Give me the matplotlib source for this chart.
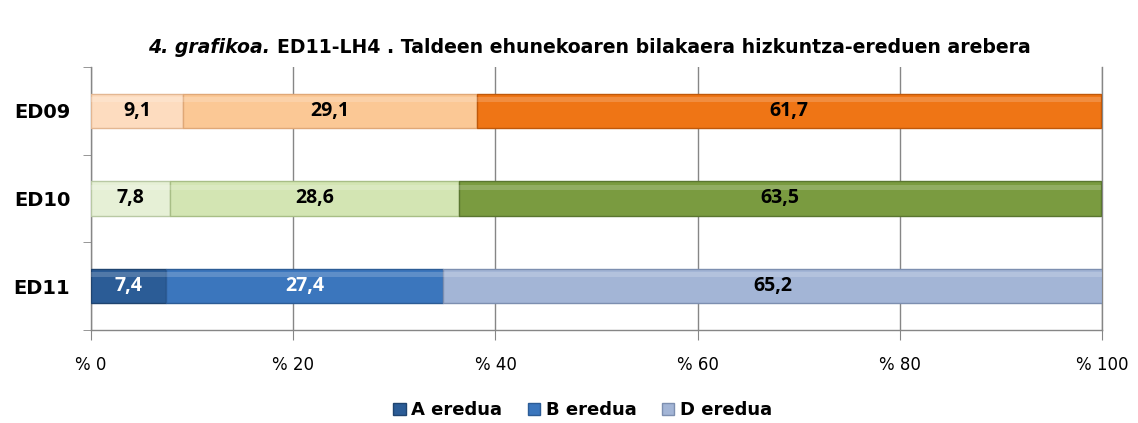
import matplotlib
matplotlib.use('Agg')
import matplotlib.pyplot as plt
from matplotlib.patches import Patch
import numpy as np

# data (bottom to top)
groups = ['ED11', 'ED10', 'ED09']
series = ['A eredua', 'B eredua', 'D eredua']
a_vals = [7.4, 7.8, 9.1]
b_vals = [27.4, 28.6, 29.1]
d_vals = [65.2, 63.5, 61.7]
x_ticks = [0, 20, 40, 60, 80, 100]
x_labels = ['% 0', '% 20', '% 40', '% 60', '% 80', '% 100']

# colours per group (A, B, D)
colors = {
    'ED11': ['#2B5C96', '#3B76BD', '#A3B5D6'],
    'ED10': ['#E6F0D6', '#D3E5B3', '#7A9B40'],
    'ED09': ['#FDDCBF', '#FBC895', '#EF7515'],
}
edges = {
    'ED11': ['#1F4470', '#2C5C96', '#7D8FB0'],
    'ED10': ['#B9C9A4', '#A8BE86', '#5A7630'],
    'ED09': ['#E3B792', '#E0A877', '#C0580A'],
}
text_col = {
    'ED11': ['white', 'white', 'black'],
    'ED10': ['black', 'black', 'black'],
    'ED09': ['black', 'black', 'black'],
}

plt.rcParams['font.family'] = ['DejaVu Sans']

fig = plt.figure(figsize=(11.38, 4.23), dpi=100)
ax = fig.add_axes([0.080, 0.220, 0.8884, 0.6217])

y = np.arange(len(groups))
h = 0.39
vals = [a_vals, b_vals, d_vals]
left = np.zeros(len(groups))
for s, v in enumerate(vals):
    for i, g in enumerate(groups):
        ax.barh(y[i], v[i], left=left[i], height=h, color=colors[g][s],
                edgecolor=edges[g][s], linewidth=1.0, zorder=3)
        # soft highlight along the top of each bar
        ax.barh(y[i] + h * 0.33, v[i], left=left[i], height=h * 0.14,
                color='white', alpha=0.18, linewidth=0, zorder=4)
        ax.text(left[i] + v[i] / 2, y[i], f'{v[i]:.1f}'.replace('.', ','),
                ha='center', va='center', fontsize=14, fontweight='bold',
                family='Open Sans', color=text_col[g][s], zorder=5)
    left = left + np.array(v)

ax.set_xlim(0, 100)
ax.set_ylim(-0.5, 2.5)
ax.set_xticks(x_ticks)
ax.set_xticklabels(x_labels, fontsize=12)
ax.set_yticks(y)
ax.set_yticklabels(groups, fontsize=14, fontweight='bold')
ax.set_yticks([-0.5, 0.5, 1.5, 2.5], minor=True)
ax.tick_params(axis='y', which='major', length=0, pad=15)
ax.tick_params(axis='y', which='minor', length=6, color='#868686')
ax.tick_params(axis='x', length=7, color='#868686', pad=12)
ax.grid(axis='x', color='#868686', linewidth=1.0, zorder=0)
ax.spines['top'].set_visible(False)
for side in ['left', 'bottom', 'right']:
    ax.spines[side].set_color('#868686')
    ax.spines[side].set_linewidth(1.0)

# title with italic part, centred as one line
title_y = 0.888
t1 = fig.text(0, title_y, '4. grafikoa.', fontsize=13.6, fontweight='bold',
              style='italic', ha='left', va='center')
t2 = fig.text(0, title_y,
              'ED11-LH4 . Taldeen ehunekoaren bilakaera hizkuntza-ereduen arebera',
              fontsize=13.6, fontweight='bold', ha='left', va='center')
fig.canvas.draw()
w1 = t1.get_window_extent().width / fig.bbox.width
w2 = t2.get_window_extent().width / fig.bbox.width
gap = 0.006
start = 0.518 - (w1 + gap + w2) / 2
t1.set_x(start)
t2.set_x(start + w1 + gap)

# legend
handles = [Patch(facecolor=colors['ED11'][k], edgecolor=edges['ED11'][k])
           for k in range(3)]
fig.legend(handles, series, loc='center', bbox_to_anchor=(0.512, 0.03),
           ncol=3, frameon=False, prop={'weight': 'bold', 'size': 13},
           handlelength=0.7, handleheight=0.7, handletextpad=0.3,
           columnspacing=1.4)

fig.savefig('out.png', dpi=100)
